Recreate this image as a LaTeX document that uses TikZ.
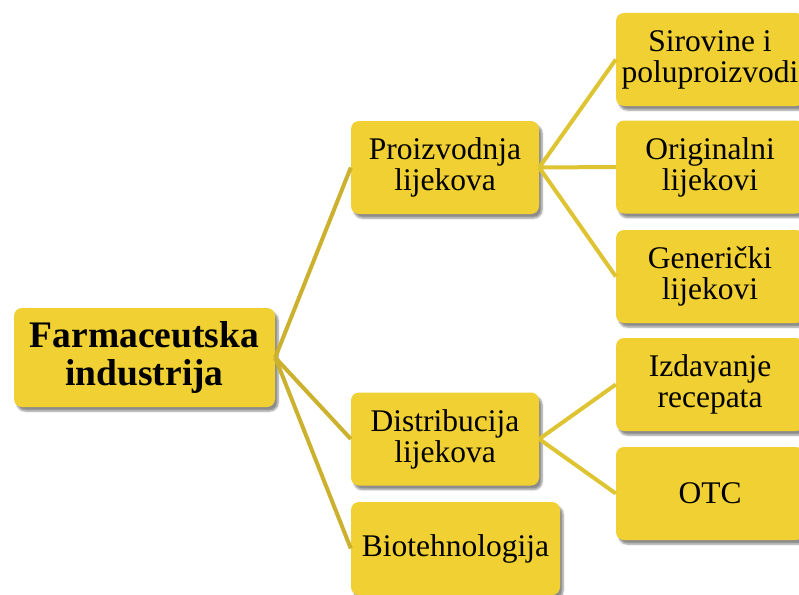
\documentclass[tikz,border=0pt]{standalone}
\usepackage{fontspec}
\setmainfont{Liberation Serif}
\usetikzlibrary{shadows.blur}

\definecolor{boxgold}{HTML}{F0D032}
\definecolor{linegold}{HTML}{CBB12E}
\definecolor{linelight}{HTML}{DEC432}

\begin{document}
\begin{tikzpicture}[x=1pt,y=-1pt,
  box/.style={rectangle,rounded corners=8pt,fill=boxgold,align=center,
    minimum width=188pt,minimum height=93pt,inner sep=0pt,
    font=\fontsize{31.5}{31}\selectfont,
    blur shadow={shadow xshift=3pt,shadow yshift=-4pt,shadow blur steps=6,shadow opacity=45}},
  rootbox/.style={box,minimum width=261pt,minimum height=99pt,
    font=\fontsize{37.5}{38}\selectfont\bfseries},
  branch/.style={draw=linegold,line width=4pt},
  twig/.style={draw=linelight,line width=4pt}]

\useasboundingbox (0,0) rectangle (799,594);

% root
\node[rootbox] (farm) at (144.5,357.5) {Farmaceutska\\industrija};

% second level
\node[box] (proiz) at (445,167.5) {Proizvodnja\\lijekova};
\node[box] (distr) at (445,439) {Distribucija\\lijekova};
\node[box,minimum width=209pt] (biotek) at (455.5,548.5) {Biotehnologija};

% third level
\node[box] (sirov) at (710,59.5) {Sirovine i\\poluproizvodi};
\node[box] (orig) at (710,167) {Originalni\\lijekovi};
\node[box] (gener) at (710,276.5) {Generički\\lijekovi};
\node[box] (izdav) at (710,384.5) {Izdavanje\\recepata};
\node[box] (otc) at (710,493.5) {OTC};

% connectors
\draw[branch] (farm.east) -- (proiz.west);
\draw[branch] (farm.east) -- (distr.west);
\draw[branch] (farm.east) -- (biotek.west);

\draw[twig] (proiz.east) -- (sirov.west);
\draw[twig] (proiz.east) -- (orig.west);
\draw[twig] (proiz.east) -- (gener.west);

\draw[twig] (distr.east) -- (izdav.west);
\draw[twig] (distr.east) -- (otc.west);

\end{tikzpicture}
\end{document}
